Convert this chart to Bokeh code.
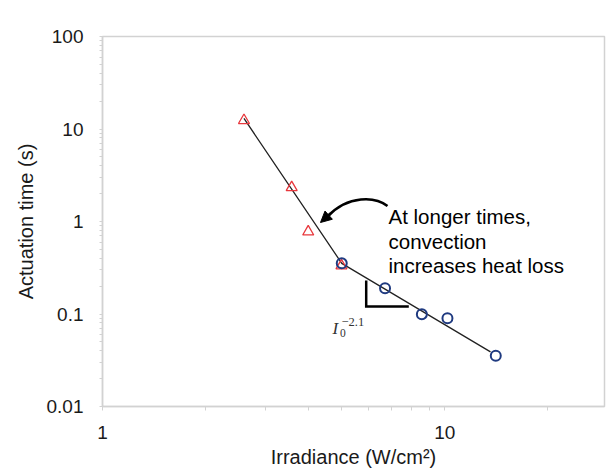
import numpy as np
from bokeh.plotting import figure
from bokeh.models import FixedTicker, CustomJSTickFormatter, Arrow, NormalHead
from bokeh.core.properties import value
from bokeh.embed import file_html
from bokeh.resources import INLINE

# ---- data ----
irr_low = [2.59, 3.57, 3.99, 4.99]          # triangles (W/cm2)
time_low = [12.4, 2.33, 0.774, 0.333]       # s
irr_high = [5.0, 6.69, 8.57, 10.18, 14.09]  # circles (W/cm2)
time_high = [0.353, 0.190, 0.0995, 0.090, 0.0353]
fit_x = [2.59, 5.0, 13.6]
fit_y = [13.0, 0.353, 0.039]

x_ticks = [1, 10]
x_tick_labels = ["1", "10"]
y_ticks = [0.01, 0.1, 1, 10, 100]
y_tick_labels = ["0.01", "0.1", "1", "10", "100"]
x_minor = [2, 3, 4, 5, 6, 7, 8, 9, 20]
y_minor = [m * 10.0 ** e for e in range(-2, 2) for m in range(2, 10)]

x_title = "Irradiance (W/cm²)"
y_title = "Actuation time (s)"
note_lines = ["At longer times,", "convection", "increases heat loss"]
slope_parts = ["I", "0", "−2.1"]

# ---- layout geometry ----
FL, FT, FW, FH = 102, 36, 502, 371
X_HI = 10 ** (FW / 342.3)
PX_DEC_X = FW / np.log10(X_HI)
PX_DEC_Y = FH / 4.0

def dx(px):  # page pixel -> data x (annotation placement only)
    return 10 ** ((px - FL) / PX_DEC_X)

def dy(py):
    return 10 ** (2 - (py - FT) / PX_DEC_Y)

AX = "#d2d2d2"
FONT = "Liberation Sans"

p = figure(width=606, height=470, x_axis_type="log", y_axis_type="log",
           x_range=(1, X_HI), y_range=(0.01, 100),
           output_backend="svg", toolbar_location=None,
           min_border_left=FL, min_border_right=2, min_border_top=FT,
           min_border_bottom=470 - FT - FH)

p.grid.visible = False
p.outline_line_color = AX
p.outline_line_width = 1.5
p.background_fill_color = "white"
p.border_fill_color = "white"

fmt_code = ("const i = tv.findIndex(t => Math.abs(Math.log10(t) - Math.log10(tick)) < 1e-6);"
            "return i >= 0 ? lb[i] : '';")
p.xaxis.ticker = FixedTicker(ticks=x_ticks, minor_ticks=x_minor)
p.xaxis.formatter = CustomJSTickFormatter(args=dict(tv=x_ticks, lb=x_tick_labels), code=fmt_code)
p.yaxis.ticker = FixedTicker(ticks=y_ticks, minor_ticks=y_minor)
p.yaxis.formatter = CustomJSTickFormatter(args=dict(tv=y_ticks, lb=y_tick_labels), code=fmt_code)

for ax in (p.xaxis[0], p.yaxis[0]):
    ax.axis_line_color = AX
    ax.axis_line_width = 1.5
    ax.major_tick_line_color = AX
    ax.minor_tick_line_color = AX
    ax.major_tick_in = 0
    ax.minor_tick_in = 0
    ax.major_label_text_font = FONT
    ax.major_label_text_font_size = "19px"
    ax.major_label_text_color = "#1a1a1a"
    ax.axis_label_text_font = FONT
    ax.axis_label_text_font_size = "20px"
    ax.axis_label_text_font_style = "normal"
    ax.axis_label_text_color = "#1a1a1a"

p.xaxis.major_tick_out = 4
p.xaxis.minor_tick_out = 4
p.xaxis.major_label_standoff = 15
p.xaxis.axis_label = x_title
p.xaxis.axis_label_standoff = 4

p.yaxis.major_tick_out = 3
p.yaxis.minor_tick_out = 3
p.yaxis.major_label_standoff = 16
p.yaxis.axis_label = y_title
p.yaxis.axis_label_standoff = 7

# fit line
p.line(fit_x, fit_y, line_color="#222222", line_width=1.3)

# data markers
p.scatter(irr_low, time_low, marker="triangle", size=11, fill_color=None,
          line_color="#e8383d", line_width=1.3)
p.scatter(irr_high, time_high, marker="circle", size=10, fill_color=None,
          line_color="#1f3a80", line_width=2)

# curved arrow
p.bezier(x0=dx(387), y0=dy(206), x1=dx(327), y1=dy(216.5),
         cx0=dx(375), cy0=dy(196.5), cx1=dx(348), cy1=dy(194.5),
         line_color="black", line_width=2.5)
p.add_layout(Arrow(end=NormalHead(size=11, fill_color="black", line_color="black"),
                   x_start=dx(330), y_start=dy(213.5), x_end=dx(320), y_end=dy(222.5),
                   line_color="black", line_width=2.5))

# annotation text
p.text(x=[dx(388)] * 3, y=[dy(216.7), dy(241.2), dy(265.8)], text=note_lines,
       text_font=value(FONT), text_font_size="20.5px", text_color="black",
       text_baseline="alphabetic", text_align="left")

# slope triangle
p.line([dx(365.7), dx(365.7), dx(408.3)], [dy(280.7), dy(306.7), dy(306.7)],
       line_color="black", line_width=2.5, line_join="miter")

p.text(x=[dx(332)], y=[dy(328.5)], text=[slope_parts[0]], text_font=value("Liberation Serif"),
       text_font_style="italic", text_font_size="17px", text_color="#333333",
       text_baseline="alphabetic")
p.text(x=[dx(339.5)], y=[dy(333)], text=[slope_parts[1]], text_font=value("Liberation Serif"),
       text_font_size="11.5px", text_color="#333333", text_baseline="alphabetic")
p.text(x=[dx(341)], y=[dy(322)], text=[slope_parts[2]], text_font=value("Liberation Serif"),
       text_font_size="12.5px", text_color="#333333", text_baseline="alphabetic")

open("out.html", "w").write(file_html(p, INLINE))
